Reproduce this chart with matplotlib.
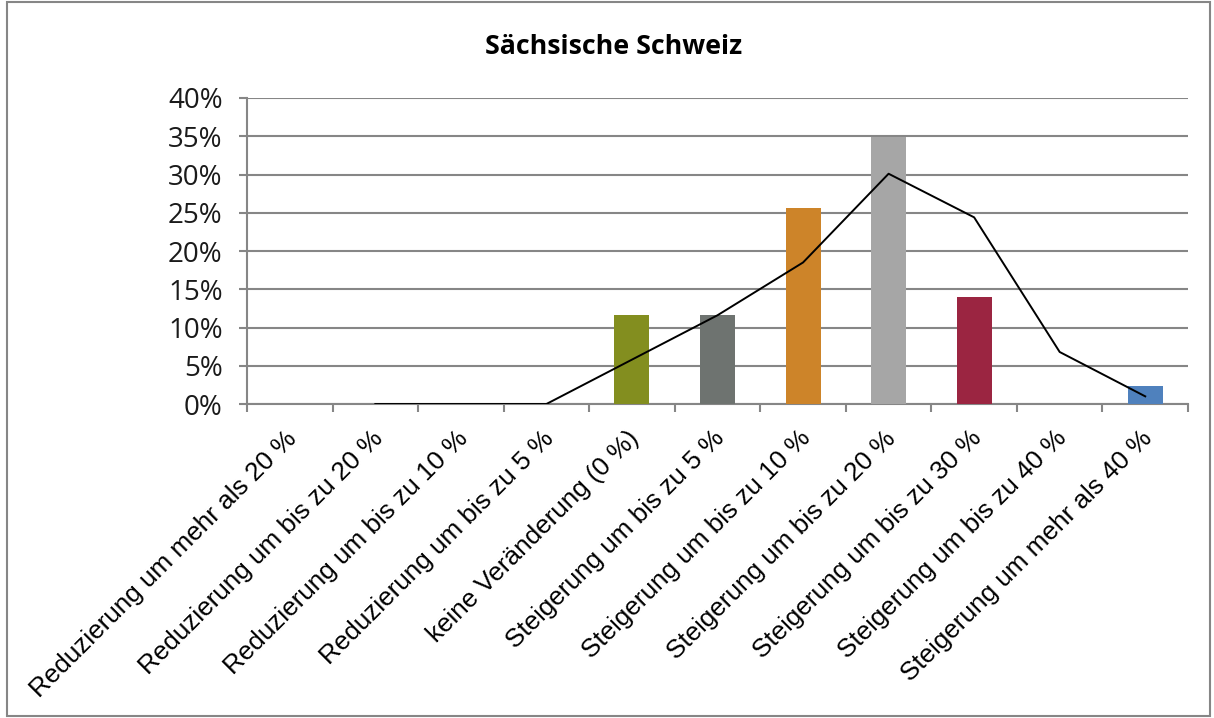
import numpy as np
import matplotlib
matplotlib.use("Agg")
import matplotlib.pyplot as plt
from matplotlib.patches import Rectangle
from matplotlib.ticker import FuncFormatter, MultipleLocator
from matplotlib.transforms import ScaledTranslation

title = "Sächsische Schweiz"
categories = [
    "Reduzierung um mehr als 20 %",
    "Reduzierung um bis zu 20 %",
    "Reduzierung um bis zu 10 %",
    "Reduzierung um bis zu 5 %",
    "keine Veränderung (0 %)",
    "Steigerung um bis zu 5 %",
    "Steigerung um bis zu 10 %",
    "Steigerung um bis zu 20 %",
    "Steigerung um bis zu 30 %",
    "Steigerung um bis zu 40 %",
    "Steigerung um mehr als 40 %",
]
# region share (bars) and comparison line, in percent
bar_values = [0, 0, 0, 0, 11.6, 11.6, 25.6, 34.9, 14.0, 0, 2.3]
line_values = [np.nan, 0, 0, 0, 5.8, 11.6, 18.5, 30.1, 24.4, 6.8, 1.0]
bar_colors = ["#4F81BD", "#4F81BD", "#4F81BD", "#4F81BD", "#838E1F", "#6E7370",
              "#CD8429", "#A6A6A6", "#9B2541", "#4F81BD", "#4F81BD"]

W, H = 1214, 718
fig = plt.figure(figsize=(W / 100, H / 100), dpi=100)
ax = fig.add_axes([247 / W, 1 - 404 / H, (1188 - 247) / W, (404 - 98) / H])

x = np.arange(len(categories))
ax.bar(x, bar_values, width=0.41, color=bar_colors, zorder=2)
ax.plot(x, line_values, color="black", lw=1.4, zorder=3)

grid_c = "#868686"
ax.set_xlim(-0.5, len(categories) - 0.5)
ax.set_ylim(0, 40)
ax.yaxis.set_major_locator(MultipleLocator(5))
ax.yaxis.set_major_formatter(FuncFormatter(lambda v, p: f"{v:.0f}%"))
ax.grid(axis="y", color=grid_c, lw=1.5, zorder=0)
ax.set_axisbelow(True)
for s in ["top", "right"]:
    ax.spines[s].set_visible(False)
for s in ["left", "bottom"]:
    ax.spines[s].set_color(grid_c)
    ax.spines[s].set_linewidth(1.5)
    ax.spines[s].set_zorder(1)

ax.tick_params(axis="y", length=5.5, width=1.5, color=grid_c, pad=12,
               labelsize=20, labelcolor="#1a1a1a")
for lab in ax.get_yticklabels():
    lab.set_family("Open Sans")

# category boundaries as tick marks, labels at centres
ax.set_xticks(np.arange(-0.5, len(categories)), minor=False)
ax.set_xticklabels([])
ax.tick_params(axis="x", which="major", length=5.5, width=1.5, color=grid_c)
ax.set_xticks(x, minor=True)
ax.set_xticklabels(categories, minor=True, rotation=45, ha="right",
                   rotation_mode="anchor", fontsize=18.8, family="Liberation Sans")
ax.tick_params(axis="x", which="minor", length=0, pad=16)
shift = ScaledTranslation(-5 / 100, 0, fig.dpi_scale_trans)
for lab in ax.get_xticklabels(minor=True):
    lab.set_transform(lab.get_transform() + shift)

fig.text(614 / W, 1 - 47.5 / H, title, ha="center", va="center",
         fontsize=19.3, fontweight="bold", family="Open Sans")

fig.patches.append(Rectangle((7 / W, 2 / H), (1210 - 7) / W, (716 - 2) / H,
                             transform=fig.transFigure, fill=False,
                             edgecolor="#868686", lw=1.5))

fig.savefig("out.png", dpi=100)
